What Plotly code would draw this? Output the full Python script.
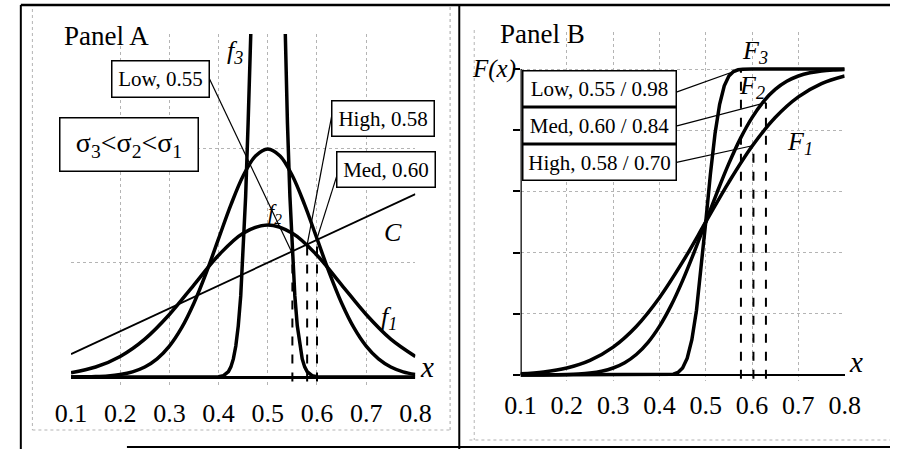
import plotly.graph_objects as go

W, H = 906, 449

# ---------------- Panel A data (densities f1, f2, f3 and line C) ----------------
xa_f1 = [0.10, 0.15, 0.20, 0.25, 0.30, 0.35, 0.40, 0.45, 0.50, 0.55, 0.60, 0.65, 0.70, 0.75, 0.80]
f1_vals = [0.076, 0.175, 0.360, 0.663, 1.094, 1.613, 2.130, 2.516, 2.660, 2.516, 2.130, 1.613, 1.094, 0.663, 0.360]

xa_f2 = [0.100, 0.125, 0.150, 0.175, 0.200, 0.225, 0.250, 0.275, 0.300, 0.325, 0.350, 0.375, 0.400,
         0.425, 0.450, 0.475, 0.500, 0.525, 0.550, 0.575, 0.600, 0.625, 0.650, 0.675, 0.700, 0.725,
         0.750, 0.775, 0.800]
f2_vals = [0.001, 0.004, 0.009, 0.020, 0.044, 0.091, 0.175, 0.317, 0.540, 0.863, 1.295, 1.826, 2.420,
           3.011, 3.521, 3.866, 3.989, 3.866, 3.521, 3.011, 2.420, 1.826, 1.295, 0.863, 0.540, 0.317,
           0.175, 0.091, 0.044]

xa_f3 = [0.10, 0.38, 0.40, 0.41, 0.42, 0.425, 0.43, 0.435, 0.44, 0.445, 0.45, 0.455, 0.46, 0.465,
         0.47, 0.475, 0.48, 0.49, 0.50, 0.51, 0.52, 0.525, 0.53, 0.535, 0.54, 0.545, 0.55, 0.555,
         0.56, 0.565, 0.57, 0.575, 0.58, 0.59, 0.60, 0.62, 0.80]
f3_vals = [0.0, 0.0, 0.005, 0.024, 0.095, 0.177, 0.317, 0.543, 0.895, 1.419, 2.160, 3.159, 4.437, 5.990,
           7.769, 9.68, 11.59, 14.73, 15.96, 14.73, 11.59, 9.68, 7.769, 5.990, 4.437, 3.159, 2.160, 1.419,
           0.895, 0.543, 0.317, 0.177, 0.095, 0.024, 0.005, 0.0, 0.0]

c_x = [0.10, 0.80]
c_vals = [0.40, 3.20]

a_opt_names = ["Low, 0.55", "High, 0.58", "Med, 0.60"]
a_opt_x = [0.55, 0.58, 0.60]
a_opt_y = [2.16, 2.31, 2.42]

# ---------------- Panel B data (CDFs F1, F2, F3) ----------------
xb_F1 = [0.10, 0.15, 0.20, 0.25, 0.30, 0.35, 0.40, 0.45, 0.50, 0.55, 0.60, 0.65, 0.70, 0.75, 0.80]
F1_vals = [0.0038, 0.0098, 0.0228, 0.0478, 0.0912, 0.1587, 0.2525, 0.3694, 0.5, 0.6306, 0.7475,
           0.8413, 0.9088, 0.9522, 0.9772]

xb_F2 = xa_f2
F2_vals = [0.0000, 0.0001, 0.0002, 0.0006, 0.0013, 0.0030, 0.0062, 0.0122, 0.0228, 0.0401, 0.0668,
           0.1056, 0.1587, 0.2266, 0.3085, 0.4013, 0.5, 0.5987, 0.6915, 0.7734, 0.8413, 0.8944,
           0.9332, 0.9599, 0.9772, 0.9878, 0.9938, 0.9970, 0.9987]

xb_F3 = [0.10, 0.40, 0.42, 0.43, 0.44, 0.45, 0.46, 0.47, 0.48, 0.49, 0.50, 0.51, 0.52, 0.53, 0.54,
         0.55, 0.56, 0.57, 0.58, 0.60, 0.80]
F3_vals = [0.0, 0.0000, 0.0007, 0.0026, 0.0082, 0.0228, 0.0548, 0.1151, 0.2119, 0.3446, 0.5, 0.6554,
           0.7881, 0.8849, 0.9452, 0.9772, 0.9918, 0.9974, 0.9993, 1.0, 1.0]

b_opt_names = ["Low, 0.55 / 0.98", "Med, 0.60 / 0.84", "High, 0.58 / 0.70"]
b_opt_x = [0.576, 0.630, 0.603]
b_opt_y = [1.0, 0.89, 0.75]

x_tick_vals = [0.1, 0.2, 0.3, 0.4, 0.5, 0.6, 0.7, 0.8]
x_tick_text = ["0.1", "0.2", "0.3", "0.4", "0.5", "0.6", "0.7", "0.8"]

# ---------------- styling ----------------
SERIF = "Liberation Serif, Times New Roman, serif"
BLACK = "black"
GRID = "#b4b4b4"


def px(p):
    return p / W


def py(p):
    return 1 - p / H


fig = go.Figure()

# Panel A traces
fig.add_trace(go.Scatter(x=c_x, y=c_vals, mode="lines", line=dict(color=BLACK, width=1.8),
                         xaxis="x", yaxis="y", hoverinfo="skip"))
fig.add_trace(go.Scatter(x=xa_f1, y=f1_vals, mode="lines", line=dict(color=BLACK, width=3.5, shape="spline"),
                         xaxis="x", yaxis="y"))
fig.add_trace(go.Scatter(x=xa_f2, y=f2_vals, mode="lines", line=dict(color=BLACK, width=3.5, shape="spline"),
                         xaxis="x", yaxis="y"))
fig.add_trace(go.Scatter(x=xa_f3, y=f3_vals, mode="lines", line=dict(color=BLACK, width=3.5),
                         xaxis="x", yaxis="y"))
for xv, yv in zip(a_opt_x, a_opt_y):
    fig.add_trace(go.Scatter(x=[xv, xv], y=[-0.08, yv], mode="lines",
                             line=dict(color=BLACK, width=2, dash="dash"), xaxis="x", yaxis="y"))

# Panel B traces
fig.add_trace(go.Scatter(x=xb_F1, y=F1_vals, mode="lines", line=dict(color=BLACK, width=3.5, shape="spline"),
                         xaxis="x2", yaxis="y2"))
fig.add_trace(go.Scatter(x=xb_F2, y=F2_vals, mode="lines", line=dict(color=BLACK, width=3.5, shape="spline"),
                         xaxis="x2", yaxis="y2"))
fig.add_trace(go.Scatter(x=xb_F3, y=F3_vals, mode="lines", line=dict(color=BLACK, width=3.5),
                         xaxis="x2", yaxis="y2"))
for xv, yv in zip(b_opt_x, b_opt_y):
    fig.add_trace(go.Scatter(x=[xv, xv], y=[-0.012, yv], mode="lines",
                             line=dict(color=BLACK, width=2, dash="dash"), xaxis="x2", yaxis="y2"))

tickfont = dict(family=SERIF, size=26, color=BLACK)

fig.update_layout(
    width=W, height=H, margin=dict(l=0, r=0, t=0, b=0),
    paper_bgcolor="white", plot_bgcolor="white", showlegend=False,
    xaxis=dict(domain=[57 / W, 414 / W], range=[0.1, 0.8], tickvals=x_tick_vals, ticktext=x_tick_text,
               tickfont=tickfont, ticks="outside", ticklen=4, tickcolor="rgba(0,0,0,0)",
               showgrid=True, gridcolor=GRID, griddash="dot", gridwidth=1, zeroline=False,
               showline=False, anchor="y"),
    yaxis=dict(domain=[py(385.6), py(34)], range=[-0.15, 6], tickvals=[2, 4, 6], showticklabels=False,
               showgrid=True, gridcolor=GRID, griddash="dot", gridwidth=1,
               zeroline=True, zerolinecolor=BLACK, zerolinewidth=3, showline=False, anchor="x"),
    xaxis2=dict(domain=[523 / W, 859 / W], range=[0.1, 0.8], tickvals=x_tick_vals, ticktext=x_tick_text,
                tickfont=tickfont, ticks="outside", ticklen=1, tickcolor="rgba(0,0,0,0)",
                showgrid=True, gridcolor=GRID, griddash="dot", gridwidth=1, zeroline=False,
                showline=False, anchor="y2"),
    yaxis2=dict(domain=[py(381.1), py(32.3)], range=[-0.02, 1.12], tickvals=[0, 0.2, 0.4, 0.6, 0.8, 1.0],
                showticklabels=False, ticks="outside", ticklen=7, tickwidth=2, tickcolor=BLACK,
                showgrid=True, gridcolor=GRID, griddash="dot", gridwidth=1,
                zeroline=True, zerolinecolor=BLACK, zerolinewidth=2.2, showline=False, anchor="x2"),
)

shapes = []
# Panel B vertical axis line (x = 0.1, F from 0 to 1)
shapes.append(dict(type="line", xref="x2", yref="y2", x0=0.1, x1=0.1, y0=0, y1=1.0,
                   line=dict(color=BLACK, width=2.5)))

# leader lines Panel A (from box edge to the optimum point)
a_lead_start = [(0.378, 5.28), (0.631, 4.615), (0.644, 3.62)]
for (x0, y0), xv, yv in zip(a_lead_start, a_opt_x, a_opt_y):
    shapes.append(dict(type="line", xref="x", yref="y", x0=x0, y0=y0, x1=xv, y1=yv,
                       line=dict(color=BLACK, width=1.2)))
# leader lines Panel B
b_lead_start = [(0.432, 0.922), (0.438, 0.814), (0.432, 0.693)]
for (x0, y0), xv, yv in zip(b_lead_start, b_opt_x, b_opt_y):
    shapes.append(dict(type="line", xref="x2", yref="y2", x0=x0, y0=y0, x1=xv, y1=yv,
                       line=dict(color=BLACK, width=1.2)))


# frame of the scanned figure
def pline(x0, y0, x1, y1, width=2, color=BLACK, dash="solid"):
    shapes.append(dict(type="line", xref="paper", yref="paper", x0=px(x0), y0=py(y0), x1=px(x1), y1=py(y1),
                       line=dict(color=color, width=width, dash=dash)))


pline(5, 5, 906, 5, 2.5)
pline(5, 5, 5, 449, 2)
pline(459.5, 5, 459.5, 449, 2)
pline(115, 447, 906, 447, 2)
pline(17, 9, 17, 430, 1, GRID, "dot")
pline(450, 7, 450, 430, 1.2, GRID, "dot")
pline(17, 430, 450, 430, 1.2, GRID, "dot")
pline(475, 30, 475, 440, 1, GRID, "dot")
pline(470, 440, 906, 440, 1.2, GRID, "dot")

fig.update_layout(shapes=shapes)

ann = []


def text(xc, yc, t, size=24, xanchor="center"):
    ann.append(dict(xref="paper", yref="paper", x=px(xc), y=py(yc), text=t, showarrow=False,
                    xanchor=xanchor, yanchor="middle", font=dict(family=SERIF, size=size, color=BLACK)))


def box(xc, yc, w, h, t, size=21):
    ann.append(dict(xref="paper", yref="paper", x=px(xc), y=py(yc), text=t, showarrow=False,
                    xanchor="center", yanchor="middle", width=w - 3, height=h - 3, borderpad=0,
                    bordercolor=BLACK, borderwidth=1.5, bgcolor="white",
                    font=dict(family=SERIF, size=size, color=BLACK)))


# Panel A texts
text(48, 36, "Panel A", 27, "left")
text(227, 52, "<i>f<sub>3</sub></i>", 26)
text(268, 213, "<i>f<sub>2</sub></i>", 22)
text(387, 318, "<i>f<sub>1</sub></i>", 26)
text(391, 232, "<i>C</i>", 26)
text(426, 367, "<i>x</i>", 29)
box(149.5, 79, 99, 38, a_opt_names[0])
box(380, 118.5, 104, 37, a_opt_names[1])
box(384, 169.5, 100, 37, a_opt_names[2])
box(117, 144.5, 140, 55, "σ<sub>3</sub>&lt;σ<sub>2</sub>&lt;σ<sub>1</sub>", 28)

# Panel B texts
text(500, 34, "Panel B", 27, "left")
text(766, 52, "<i>F<sub>3</sub></i>", 26)
text(763, 87, "<i>F<sub>2</sub></i>", 26)
text(813, 143, "<i>F<sub>1</sub></i>", 26)
text(496, 69, "<i>F(x)</i>", 25)
text(871, 362, "<i>x</i>", 29)
for i, name in enumerate(b_opt_names):
    box(604.5, 88.5 + 37 * i, 155, 37, name)

fig.update_layout(annotations=ann)

fig.write_html("out.html", config={"displayModeBar": False},
               post_script="document.body.style.margin='0px';document.body.style.overflow='hidden';")
